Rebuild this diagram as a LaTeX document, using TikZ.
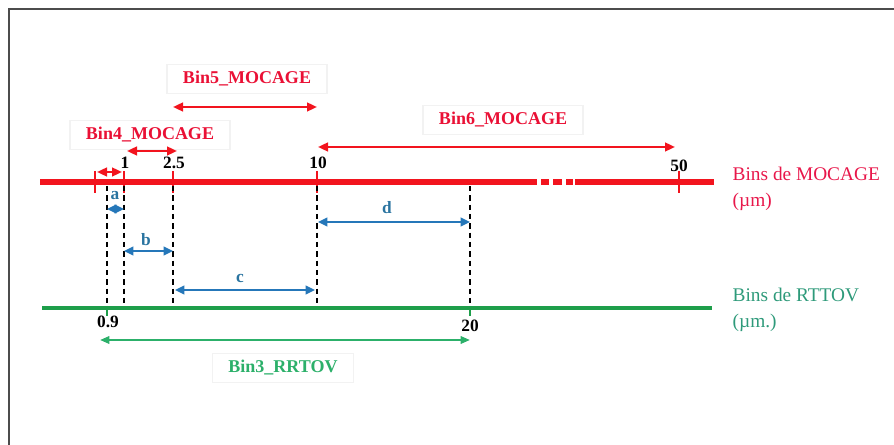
\documentclass[tikz,border=0pt]{standalone}
\usepackage{fontspec}
\setmainfont{Liberation Serif}
\usepackage{xcolor}
\usetikzlibrary{arrows.meta}
\definecolor{mocred}{HTML}{F2141E}
\definecolor{labred}{HTML}{EA1035}
\definecolor{legred}{HTML}{E8174A}
\definecolor{rtgreen}{HTML}{1E9E4A}
\definecolor{bingreen}{HTML}{2CB06A}
\definecolor{leggreen}{HTML}{2E9A7A}
\definecolor{segblue}{HTML}{2577B9}
\definecolor{segtext}{HTML}{2A74A0}
\tikzset{
  redaxis/.style={draw=mocred,line width=4.5pt},
  greenaxis/.style={draw=rtgreen,line width=3.5pt},
  redtick/.style={draw=mocred,line width=1.5pt},
  greentick/.style={draw=rtgreen,line width=1.5pt},
  guide/.style={draw=black,line width=1.2pt,dash pattern=on 4pt off 3pt},
  redarrow/.style={{Triangle[length=7.5pt,width=6.5pt]}-{Triangle[length=7.5pt,width=6.5pt]},draw=mocred,fill=mocred,line width=1.7pt},
  segarrow/.style={{Triangle[length=7pt,width=6.5pt]}-{Triangle[length=7pt,width=6.5pt]},draw=segblue,fill=segblue,line width=1.5pt},
  greenarrow/.style={{Triangle[length=7pt,width=5.5pt]}-{Triangle[length=7pt,width=5.5pt]},draw=bingreen,fill=bingreen,line width=1.6pt},
  labelbox/.style={draw=black!5,fill=white,line width=.8pt,inner xsep=12pt,inner ysep=5pt},
  binlabel/.style={labelbox,font=\fontsize{13.5}{15}\selectfont\bfseries,text=labred},
  ticknum/.style={font=\fontsize{13}{15}\selectfont\bfseries,text=black,inner sep=1pt},
  seglabel/.style={font=\fontsize{13}{15}\selectfont\bfseries,text=segtext,inner sep=1pt},
  legend/.style={font=\fontsize{14.5}{20}\selectfont,align=left,anchor=west}
}
\begin{document}
\begin{tikzpicture}[x=0.75pt,y=-0.75pt]
  \useasboundingbox (0,0) rectangle (894,445);
  % frame
  \draw[black!70,line width=1.6pt] (894,9) -- (9,9) -- (9,445);

  % label boxes first, arrows on top
  \node[binlabel] (bin5) at (247,79) {Bin5\_MOCAGE};
  \node[binlabel] (bin6) at (503,120) {Bin6\_MOCAGE};
  \node[binlabel] (bin4) at (150,135) {Bin4\_MOCAGE};
  \node[binlabel,text=bingreen] (bin3) at (283,368) {Bin3\_RRTOV};

  % MOCAGE axis
  \coordinate (redL) at (40,182);
  \coordinate (redR) at (714,182);
  \draw[redaxis] (redL) -- (537,182);
  \foreach \a/\b in {541/549,553/562,566/573}
    \draw[redaxis] (\a,182) -- (\b,182);
  \draw[redaxis] (575,182) -- (redR);
  \foreach \x in {95,124,173,317,679}
    \draw[redtick] (\x,171) -- (\x,193);

  % RTTOV axis
  \coordinate (greenL) at (42,308);
  \coordinate (greenR) at (712,308);
  \draw[greenaxis] (greenL) -- (greenR);
  \foreach \x in {107,470}
    \draw[greentick] (\x,306) -- (\x,316);

  % dashed guides
  \foreach \x in {107,124,173,317,470}
    \draw[guide] (\x,186) -- (\x,306);

  % bin limits
  \node[ticknum] (n1) at (125,163) {1};
  \node[ticknum] (n25) at (174,163) {2.5};
  \node[ticknum] (n10) at (318,163) {10};
  \node[ticknum] (n50) at (679,166) {50};
  \node[ticknum] (n09) at (108,322) {0.9};
  \node[ticknum] (n20) at (470,326) {20};

  % MOCAGE bins
  \draw[redarrow] (97,172) -- (122,172);
  \draw[redarrow] (127,151) -- (177,151);
  \draw[redarrow] (173,107) -- (317,107);
  \draw[redarrow] (318,147) -- (675,147);

  % overlaps
  \foreach \xa/\xb/\y/\lx/\ly/\t/\nm in {107/124/209/115/196/a/sa,
      124/173/251/146/240/b/sb, 175/315/290/240/278/c/sc, 318/470/222/387/208/d/sd} {
    \draw[segarrow] (\xa,\y) -- (\xb,\y);
    \node[seglabel] (\nm) at (\lx,\ly) {\t};
  }

  % RTTOV bin
  \draw[greenarrow] (100,340) -- (470,340);

  % legend
  \node[legend,text=legred] (legmoc) at (728,189) {Bins de MOCAGE\\(µm)};
  \node[legend,text=leggreen] (legrt) at (728,310) {Bins de RTTOV\\(µm.)};
\end{tikzpicture}
\end{document}
